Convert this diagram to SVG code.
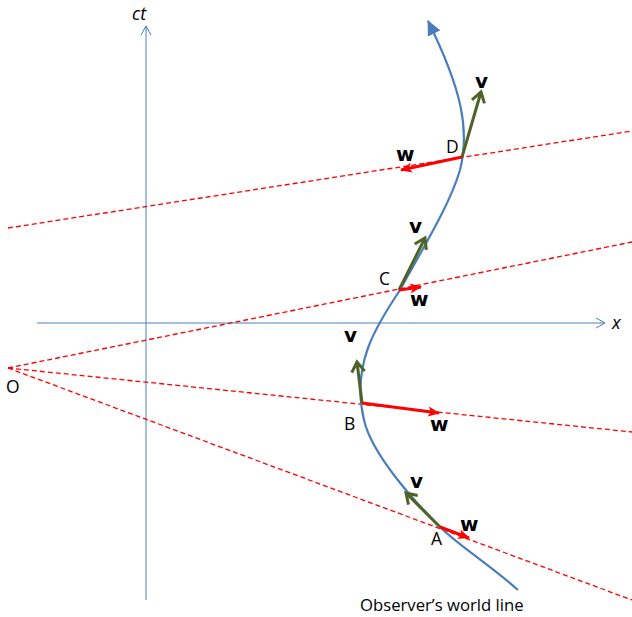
<svg xmlns="http://www.w3.org/2000/svg" width="632" height="617" viewBox="0 0 632 617">
<style>
.axis{stroke:#4a7ebb;stroke-width:1;fill:none}
.dash{stroke:#ff0000;stroke-width:1.3;stroke-dasharray:5,3;fill:none}
.wl{stroke:#4a7ebb;stroke-width:2.2;fill:none}
.v{stroke:#4f6228;stroke-width:3;fill:none}
.w{stroke:#ff0000;stroke-width:3;fill:none}
.lbl{font-family:"Open Sans","Liberation Sans",sans-serif;font-size:17.5px;fill:#000}
.obs{font-family:"Open Sans","Liberation Sans",sans-serif;font-size:16.7px;fill:#000}
.vec{font-family:"DejaVu Sans","Liberation Sans",sans-serif;font-size:20px;font-weight:bold;fill:#000}
.ax{font-family:"Open Sans","Liberation Sans",sans-serif;font-size:18px;font-style:italic;fill:#000}
</style>
<defs>
<marker id="axarr" markerWidth="12" markerHeight="12" refX="10" refY="6" orient="auto" markerUnits="userSpaceOnUse">
<path d="M1,1 L10,6 L1,11" fill="none" stroke="#4a7ebb" stroke-width="1"/>
</marker>
<marker id="blarr" markerWidth="18" markerHeight="16" refX="14" refY="8" orient="auto" markerUnits="userSpaceOnUse">
<path d="M0,1 L15,8 L0,15 Z" fill="#4a7ebb"/>
</marker>
<marker id="garr" markerWidth="16" markerHeight="16" refX="12" refY="8" orient="auto" markerUnits="userSpaceOnUse">
<path d="M2,1.5 L12,8 L2,14.5" fill="none" stroke="#4f6228" stroke-width="3" stroke-linejoin="miter"/>
</marker>
<marker id="rarr" markerWidth="14" markerHeight="12" refX="11" refY="6" orient="auto" markerUnits="userSpaceOnUse">
<path d="M0,1 L12,6 L0,11 L3,6 Z" fill="#ff0000"/>
</marker>
</defs>
<g id="connectors">
<line id="ct-axis" class="axis" x1="146" y1="600" x2="146" y2="26" marker-end="url(#axarr)"/>
<line id="x-axis" class="axis" x1="37" y1="323" x2="605" y2="323" marker-end="url(#axarr)"/>
<line class="dash" x1="8" y1="368" x2="632" y2="242"/>
<line class="dash" x1="8" y1="368" x2="632" y2="432"/>
<line class="dash" x1="8" y1="368" x2="632" y2="600"/>
<line class="dash" x1="8" y1="228" x2="632" y2="131"/>
<path id="world-line" class="wl" d="M518,590 C490,565 458,545 440,527 C415,502 372,455 364,420 C358,395 360,370 368,348 C375,328 388,308 400,290 C420,253 450,205 460,170 C470,130 462,90 428,21" marker-end="url(#blarr)"/>
<line class="v" x1="440" y1="527" x2="406" y2="493" marker-end="url(#garr)"/>
<line class="v" x1="362" y1="403" x2="357" y2="362" marker-end="url(#garr)"/>
<line class="v" x1="399" y1="290" x2="425" y2="238" marker-end="url(#garr)"/>
<line class="v" x1="462" y1="157" x2="481" y2="92" marker-end="url(#garr)"/>
<line class="w" x1="440" y1="527" x2="469" y2="538" marker-end="url(#rarr)"/>
<line class="w" x1="362" y1="403" x2="439" y2="413" marker-end="url(#rarr)"/>
<line class="w" x1="399" y1="290" x2="421" y2="287" marker-end="url(#rarr)"/>
<line class="w" x1="462" y1="157" x2="401" y2="170" marker-end="url(#rarr)"/>
</g>
<g id="labels">
<text class="ax" x="132" y="20">ct</text>
<text class="ax" x="612" y="329">x</text>
<text class="lbl" x="6" y="393">O</text>
<text class="lbl" x="431" y="545">A</text>
<text class="lbl" x="344" y="430">B</text>
<text class="lbl" x="379" y="285">C</text>
<text class="lbl" x="446" y="153">D</text>
<text class="vec" x="410" y="488">v</text>
<text class="vec" x="344" y="342">v</text>
<text class="vec" x="409" y="233">v</text>
<text class="vec" x="475" y="88">v</text>
<text class="vec" x="460" y="531">w</text>
<text class="vec" x="430" y="431">w</text>
<text class="vec" x="410" y="306">w</text>
<text class="vec" x="396" y="161">w</text>
<text class="obs" x="360" y="611">Observer’s world line</text>
</g>
</svg>
